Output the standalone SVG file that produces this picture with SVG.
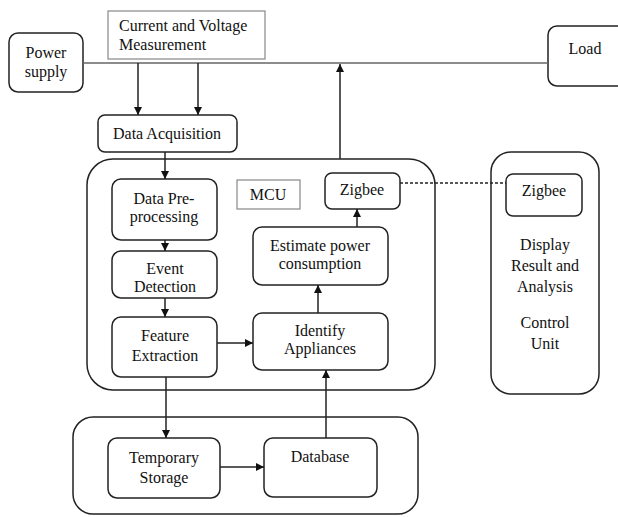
<svg xmlns="http://www.w3.org/2000/svg" width="618" height="517" viewBox="0 0 618 517" font-family="'Liberation Serif', 'Times New Roman', 'DejaVu Serif', serif">
<style>
.b{fill:#fff;stroke:#222;stroke-width:1.5}
.g{fill:#fff;stroke:#888;stroke-width:1.2}
.c{fill:none;stroke:#222;stroke-width:1.5}
.l{fill:none;stroke:#666;stroke-width:1.5}
text{font-family:'Liberation Serif','Times New Roman','DejaVu Serif',serif;font-size:16px;fill:#111;text-anchor:middle}
.s{text-anchor:start}
</style>
<defs>
<marker id="a" viewBox="0 0 10 10" refX="10" refY="5" markerWidth="8" markerHeight="8" markerUnits="userSpaceOnUse" orient="auto">
<path d="M0,0L10,5L0,10z" fill="#111"/>
</marker>
</defs>
<g id="power-supply"><rect class="b" x="9" y="33" width="74" height="59" rx="9"/><text x="46" y="58">Power</text><text x="46" y="77">supply</text></g>
<g id="measurement"><rect class="g" x="108" y="11" width="157" height="48"/><text class="s" x="119" y="31">Current and Voltage</text><text class="s" x="119" y="50">Measurement</text></g>
<g id="load"><rect class="b" x="548" y="26" width="80" height="60" rx="9"/><text x="585" y="54">Load</text></g>
<g id="data-acquisition"><rect class="b" x="98" y="115" width="139" height="37" rx="7"/><text x="167" y="139">Data Acquisition</text></g>
<g id="mcu"><rect class="b" x="87" y="159" width="348" height="231" rx="26"/></g>
<g id="mcu-label"><rect class="g" x="237" y="180" width="63" height="29"/><text x="268" y="200">MCU</text></g>
<g id="preprocessing"><rect class="b" x="112" y="179" width="105" height="61" rx="9"/><text x="164" y="204">Data Pre-</text><text x="164" y="222">processing</text></g>
<g id="event-detection"><rect class="b" x="112" y="251" width="105" height="47" rx="9"/><text x="165" y="274">Event</text><text x="165" y="292">Detection</text></g>
<g id="feature-extraction"><rect class="b" x="112" y="317" width="105" height="60" rx="9"/><text x="165" y="341">Feature</text><text x="165" y="361">Extraction</text></g>
<g id="identify"><rect class="b" x="253" y="313" width="135" height="57" rx="9"/><text x="320" y="336">Identify</text><text x="320" y="354">Appliances</text></g>
<g id="estimate"><rect class="b" x="253" y="227" width="135" height="58" rx="9"/><text x="320" y="251">Estimate power</text><text x="320" y="269">consumption</text></g>
<g id="zigbee-mcu"><rect class="b" x="325" y="173" width="75" height="36" rx="7"/><text x="362" y="195">Zigbee</text></g>
<g id="control-unit"><rect class="b" x="491" y="152" width="108" height="242" rx="20"/><text x="545" y="250">Display</text><text x="545" y="271">Result and</text><text x="545" y="292">Analysis</text><text x="545" y="328">Control</text><text x="545" y="349">Unit</text></g>
<g id="zigbee-control"><rect class="b" x="506" y="174" width="76" height="42" rx="7"/><text x="544" y="196">Zigbee</text></g>
<g id="storage"><rect class="b" x="73" y="417" width="345" height="97" rx="20"/></g>
<g id="temporary-storage"><rect class="b" x="108" y="438" width="112" height="60" rx="9"/><text x="164" y="463">Temporary</text><text x="164" y="483">Storage</text></g>
<g id="database"><rect class="b" x="264" y="438" width="113" height="59" rx="9"/><text x="320" y="462">Database</text></g>
<g id="connectors">
<line class="l" x1="83" y1="63" x2="548" y2="63"/>
<line class="c" x1="138" y1="63" x2="138" y2="115" marker-end="url(#a)"/>
<line class="c" x1="198" y1="63" x2="198" y2="115" marker-end="url(#a)"/>
<line class="c" x1="165" y1="152" x2="165" y2="179" marker-end="url(#a)"/>
<line class="c" x1="165" y1="240" x2="165" y2="251" marker-end="url(#a)"/>
<line class="c" x1="165" y1="298" x2="165" y2="317" marker-end="url(#a)"/>
<line class="c" x1="217" y1="343" x2="253" y2="343" marker-end="url(#a)"/>
<line class="c" x1="318" y1="313" x2="318" y2="285" marker-end="url(#a)"/>
<line class="c" x1="357" y1="227" x2="357" y2="209" marker-end="url(#a)"/>
<line class="c" x1="340" y1="159" x2="340" y2="64" marker-end="url(#a)"/>
<line class="c" x1="400" y1="183" x2="506" y2="183" stroke-dasharray="3,2"/>
<line class="c" x1="166" y1="377" x2="166" y2="438" marker-end="url(#a)"/>
<line class="c" x1="220" y1="467" x2="264" y2="467" marker-end="url(#a)"/>
<line class="c" x1="326" y1="438" x2="326" y2="370" marker-end="url(#a)"/>
</g>
</svg>
